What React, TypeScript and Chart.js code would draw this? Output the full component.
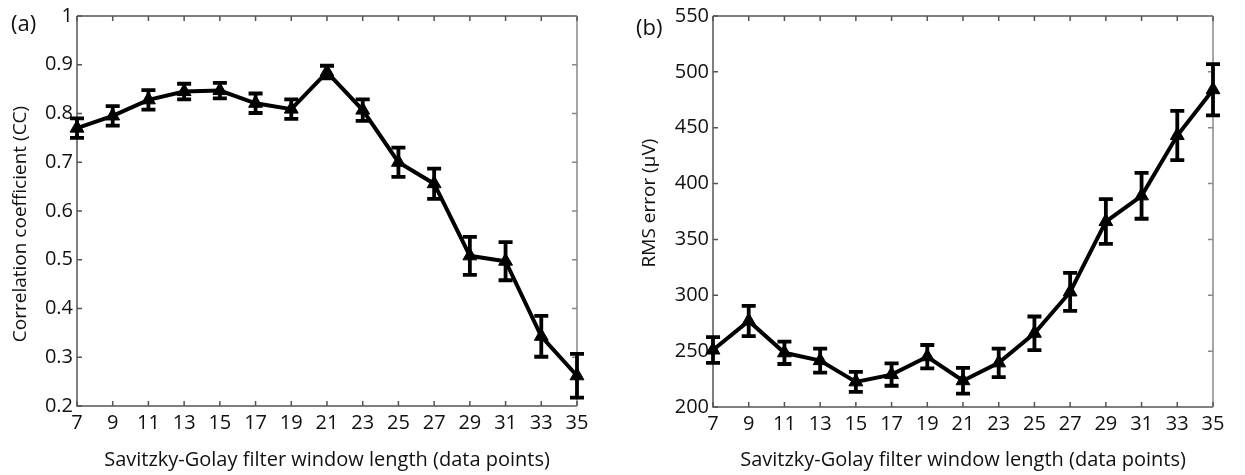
import React, { useEffect, useRef } from 'react';
import { Chart, registerables } from 'chart.js';
Chart.register(...registerables);

// ---- data ----
const windowLengths = ['7', '9', '11', '13', '15', '17', '19', '21', '23', '25', '27', '29', '31', '33', '35'];
const ccMean = [0.770, 0.795, 0.828, 0.845, 0.847, 0.821, 0.809, 0.885, 0.807, 0.700, 0.656, 0.508, 0.497, 0.343, 0.262];
const ccErr = [0.020, 0.020, 0.020, 0.016, 0.016, 0.020, 0.020, 0.013, 0.022, 0.030, 0.031, 0.039, 0.039, 0.042, 0.045];
const rmsMean = [251, 277, 248.5, 241.5, 222.5, 229, 245, 223.5, 239.5, 266, 303, 366, 389, 443, 484];
const rmsErr = [11.5, 13.5, 10, 10.7, 9, 10, 10.5, 11.5, 12.7, 15, 17, 20, 20.5, 22, 23];
const ccTicks = [0.2, 0.3, 0.4, 0.5, 0.6, 0.7, 0.8, 0.9, 1];
const rmsTicks = [200, 250, 300, 350, 400, 450, 500, 550];

const xTitle = 'Savitzky-Golay filter window length (data points)';
const ccTitle = 'Correlation coefficient (CC)';
const rmsTitle = 'RMS error (\u03bcV)';

const FONT = "'Open Sans', sans-serif";
const TEXT = '#111';

interface PanelSpec {
  means: number[];
  errs: number[];
  ticks: number[];
  yTitle: string;
  panelLabel: string;
  yTitlePos: [number, number];
  panelLabelPos: [number, number];
  yAxisWidth: number;
  xAxisHeight: number;
  padRight: number;
  fmt: (v: number) => string;
}

function makePlugin(spec: PanelSpec) {
  return {
    id: 'frameErrors',
    beforeDatasetsDraw(chart: any) {
      const { ctx, chartArea } = chart;
      const { left, right, top, bottom } = chartArea;
      const x = chart.scales.x;
      const y = chart.scales.y;
      ctx.save();
      ctx.lineWidth = 1.5;
      ctx.strokeStyle = '#555';
      ctx.beginPath();
      ctx.moveTo(left, top);
      ctx.lineTo(left, bottom);
      ctx.lineTo(right, bottom);
      ctx.moveTo(left, top);
      ctx.lineTo(right, top);
      ctx.stroke();
      ctx.strokeStyle = '#888';
      ctx.beginPath();
      ctx.moveTo(right, top);
      ctx.lineTo(right, bottom);
      ctx.stroke();
      const tl = 5;
      ctx.strokeStyle = '#555';
      ctx.beginPath();
      windowLengths.forEach((_, i) => {
        const px = x.getPixelForValue(i);
        ctx.moveTo(px, bottom);
        ctx.lineTo(px, bottom - tl);
        ctx.moveTo(px, top);
        ctx.lineTo(px, top + tl);
      });
      spec.ticks.forEach((v) => {
        const py = y.getPixelForValue(v);
        ctx.moveTo(left, py);
        ctx.lineTo(left + tl, py);
      });
      ctx.stroke();
      ctx.strokeStyle = '#888';
      ctx.beginPath();
      spec.ticks.forEach((v) => {
        const py = y.getPixelForValue(v);
        ctx.moveTo(right, py);
        ctx.lineTo(right - tl, py);
      });
      ctx.stroke();
      ctx.restore();
    },
    afterDatasetsDraw(chart: any) {
      const { ctx } = chart;
      const x = chart.scales.x;
      const y = chart.scales.y;
      ctx.save();
      ctx.strokeStyle = '#000';
      ctx.lineWidth = 3.8;
      const cap = 7;
      spec.means.forEach((m, i) => {
        const px = x.getPixelForValue(i);
        const yt = y.getPixelForValue(m + spec.errs[i]);
        const yb = y.getPixelForValue(m - spec.errs[i]);
        ctx.beginPath();
        ctx.moveTo(px, yt);
        ctx.lineTo(px, yb);
        ctx.moveTo(px - cap, yt);
        ctx.lineTo(px + cap, yt);
        ctx.moveTo(px - cap, yb);
        ctx.lineTo(px + cap, yb);
        ctx.stroke();
      });
      ctx.restore();
    },
    afterDraw(chart: any) {
      const { ctx } = chart;
      ctx.save();
      ctx.fillStyle = TEXT;
      ctx.font = `19px ${FONT}`;
      ctx.textAlign = 'center';
      ctx.textBaseline = 'middle';
      ctx.translate(spec.yTitlePos[0], spec.yTitlePos[1]);
      ctx.rotate(-Math.PI / 2);
      ctx.fillText(spec.yTitle, 0, 0);
      ctx.restore();
      ctx.save();
      ctx.fillStyle = TEXT;
      ctx.font = `22px ${FONT}`;
      ctx.textAlign = 'left';
      ctx.textBaseline = 'middle';
      ctx.fillText(spec.panelLabel, spec.panelLabelPos[0], spec.panelLabelPos[1]);
      ctx.restore();
    },
  };
}

function makeConfig(spec: PanelSpec): any {
  return {
    type: 'line',
    data: {
      labels: windowLengths,
      datasets: [
        {
          data: spec.means,
          borderColor: '#000',
          backgroundColor: '#000',
          borderWidth: 4,
          pointStyle: 'triangle',
          pointRadius: 8,
          pointBorderWidth: 1,
          pointBackgroundColor: '#000',
          pointBorderColor: '#000',
          tension: 0,
          clip: false,
        },
      ],
    },
    options: {
      responsive: false,
      animation: false,
      devicePixelRatio: 1,
      layout: { padding: { left: 0, top: 15, right: spec.padRight, bottom: 0 } },
      plugins: { legend: { display: false }, tooltip: { enabled: false } },
      scales: {
        x: {
          type: 'category',
          offset: false,
          grid: { display: false, drawTicks: false },
          border: { display: false },
          ticks: {
            autoSkip: false,
            maxRotation: 0,
            color: TEXT,
            padding: 5,
            font: { family: FONT, size: 20 },
          },
          title: {
            display: true,
            text: xTitle,
            color: TEXT,
            font: { family: FONT, size: 20 },
            padding: { top: 0, bottom: 3 },
          },
          afterFit(scale: any) {
            scale.height = spec.xAxisHeight;
          },
        },
        y: {
          type: 'linear',
          min: spec.ticks[0],
          max: spec.ticks[spec.ticks.length - 1],
          grid: { display: false, drawTicks: false },
          border: { display: false },
          afterBuildTicks(scale: any) {
            scale.ticks = spec.ticks.map((v) => ({ value: v }));
          },
          ticks: {
            color: TEXT,
            padding: 4,
            font: { family: FONT, size: 20 },
            callback: (v: any) => spec.fmt(Number(v)),
          },
          afterFit(scale: any) {
            scale.width = spec.yAxisWidth;
          },
        },
      },
    },
    plugins: [makePlugin(spec)],
  };
}

const specA: PanelSpec = {
  means: ccMean,
  errs: ccErr,
  ticks: ccTicks,
  yTitle: ccTitle,
  panelLabel: '(a)',
  yTitlePos: [21, 224],
  panelLabelPos: [11, 25],
  yAxisWidth: 77,
  xAxisHeight: 69,
  padRight: 45,
  fmt: (v) => String(Math.round(v * 10) / 10),
};

const specB: PanelSpec = {
  means: rmsMean,
  errs: rmsErr,
  ticks: rmsTicks,
  yTitle: rmsTitle,
  panelLabel: '(b)',
  yTitlePos: [28, 203],
  panelLabelPos: [14, 29],
  yAxisWidth: 91,
  xAxisHeight: 68,
  padRight: 32,
  fmt: (v) => String(v),
};

export default function App() {
  const refA = useRef<HTMLCanvasElement>(null);
  const refB = useRef<HTMLCanvasElement>(null);

  useEffect(() => {
    const a = new Chart(refA.current as HTMLCanvasElement, makeConfig(specA));
    const b = new Chart(refB.current as HTMLCanvasElement, makeConfig(specB));
    return () => {
      a.destroy();
      b.destroy();
    };
  }, []);

  return (
    <div style={{ position: 'absolute', left: 0, top: 0, width: 1245, height: 475, background: '#fff', display: 'flex' }}>
      <canvas ref={refA} width={622} height={475} style={{ width: 622, height: 475, display: 'block' }} />
      <canvas ref={refB} width={623} height={475} style={{ width: 623, height: 475, display: 'block' }} />
    </div>
  );
}
